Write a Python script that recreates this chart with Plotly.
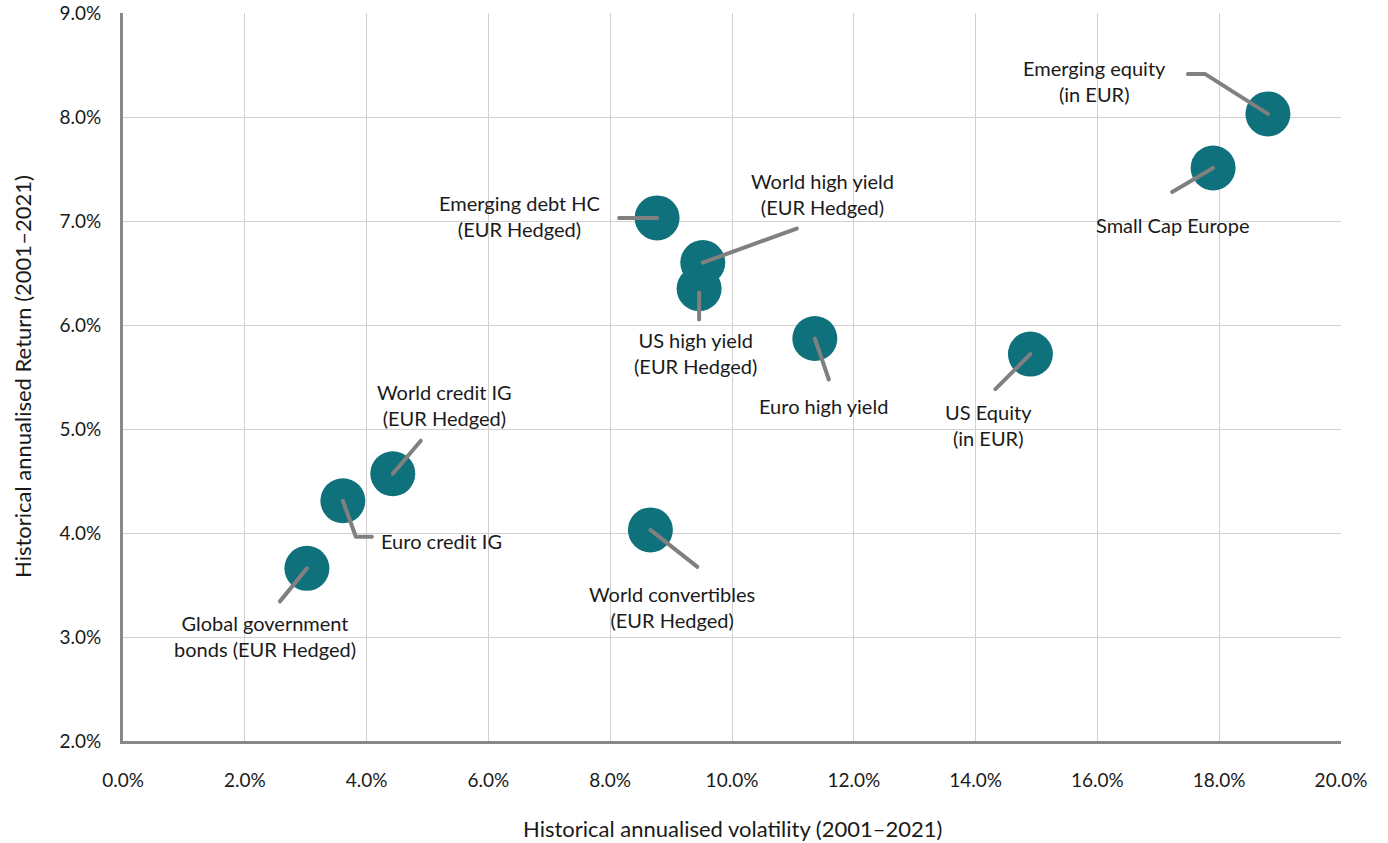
import plotly.graph_objects as go

# ---- data (percent) ----
names = ["Emerging equity<br>(in EUR)", "Small Cap Europe", "Emerging debt HC<br>(EUR Hedged)",
         "World high yield<br>(EUR Hedged)", "US high yield<br>(EUR Hedged)", "Euro high yield",
         "US Equity<br>(in EUR)", "World credit IG<br>(EUR Hedged)", "Euro credit IG",
         "World convertibles<br>(EUR Hedged)", "Global government<br>bonds (EUR Hedged)"]
volatility = [18.8, 17.9, 8.77, 9.52, 9.46, 11.36, 14.9, 4.43, 3.61, 8.66, 3.02]
returns = [8.03, 7.51, 7.03, 6.60, 6.35, 5.87, 5.72, 4.57, 4.31, 4.03, 3.66]
x_ticks = [0, 2, 4, 6, 8, 10, 12, 14, 16, 18, 20]
x_tick_labels = ["0.0%", "2.0%", "4.0%", "6.0%", "8.0%", "10.0%", "12.0%", "14.0%", "16.0%", "18.0%", "20.0%"]
y_ticks = [2, 3, 4, 5, 6, 7, 8, 9]
y_tick_labels = ["2.0%", "3.0%", "4.0%", "5.0%", "6.0%", "7.0%", "8.0%", "9.0%"]
x_title = "Historical annualised volatility (2001–2021)"
y_title = "Historical annualised Return (2001–2021)"

# ---- label layout (pixel offsets from point, y down) ----
label_offsets = [(-173, -33), (-41, 57), (-138, -2), (120, -69), (-4, 64), (9, 67),
                 (-42, 71), (52, -69), (99, 40), (22, 77), (-42, 68)]
leader_paths = [[(0, 0), (-63, -40), (-80, -40)], [(0, 0), (-41, 24)], [(0, 0), (-38, 0)],
                [(0, 0), (94, -34)], [(0, 4), (0, 31)], [(0, 0), (14, 41)],
                [(0, 0), (-35, 35)], [(0, 0), (28, -33)], [(0, 0), (13, 36), (29, 36)],
                [(0, 0), (47, 37)], [(0, 0), (-27, 33)]]

FONT = "Lato"
TEAL = "#0F717C"
GREY = "#808080"
TXT = "#1a1a1a"

fig = go.Figure()
fig.add_trace(go.Scatter(x=volatility, y=returns, mode="markers",
                         marker=dict(size=45, color=TEAL, line=dict(width=0)),
                         hoverinfo="skip", showlegend=False))

shapes = []
annotations = []
for i in range(len(names)):
    pts = leader_paths[i]
    path = "M " + " L ".join(f"{px},{-py}" for px, py in pts)
    shapes.append(dict(type="path", path=path, xsizemode="pixel", ysizemode="pixel",
                       xanchor=volatility[i], yanchor=returns[i], xref="x", yref="y",
                       line=dict(color=GREY, width=4), layer="above"))
    dx, dy = label_offsets[i]
    annotations.append(dict(x=volatility[i], y=returns[i], xref="x", yref="y",
                            text=names[i], showarrow=False, xshift=dx, yshift=-dy,
                            align="center", font=dict(family=FONT, size=20, color=TXT)))

annotations.append(dict(x=0.5, y=0, xref="paper", yref="paper", text=x_title, showarrow=False,
                        yshift=-87, yanchor="middle", xanchor="center",
                        font=dict(family=FONT, size=22, color=TXT)))
annotations.append(dict(x=0, y=0.5, xref="paper", yref="paper", text=y_title, showarrow=False,
                        xshift=-101, xanchor="center", yanchor="middle", textangle=-90,
                        font=dict(family=FONT, size=22, color=TXT)))

fig.update_layout(
    width=1388, height=843,
    margin=dict(l=123, r=47, t=13, b=102, autoexpand=False),
    plot_bgcolor="white", paper_bgcolor="white",
    font=dict(family=FONT, size=19, color=TXT),
    shapes=shapes, annotations=annotations,
    xaxis=dict(range=[0, 20], tickvals=x_ticks, ticktext=x_tick_labels, automargin=False,
               showgrid=True, gridcolor="#d0d0d0", gridwidth=1, zeroline=False,
               showline=True, linecolor="#888888", linewidth=3,
               ticks="outside", ticklen=20, tickcolor="rgba(0,0,0,0)"),
    yaxis=dict(range=[2, 9], tickvals=y_ticks, ticktext=y_tick_labels, automargin=False,
               showgrid=True, gridcolor="#d0d0d0", gridwidth=1, zeroline=False,
               showline=True, linecolor="#888888", linewidth=3,
               ticks="outside", ticklen=15, tickcolor="rgba(0,0,0,0)"),
)
fig.write_html(
    "out.html",
    config={"displayModeBar": False},
    post_script=("document.body.style.margin='0';document.body.style.overflow='hidden';"
                 "document.querySelectorAll('.shapelayer path').forEach(function(p){"
                 "p.style.strokeLinecap='round';p.style.strokeLinejoin='round';});"),
)
